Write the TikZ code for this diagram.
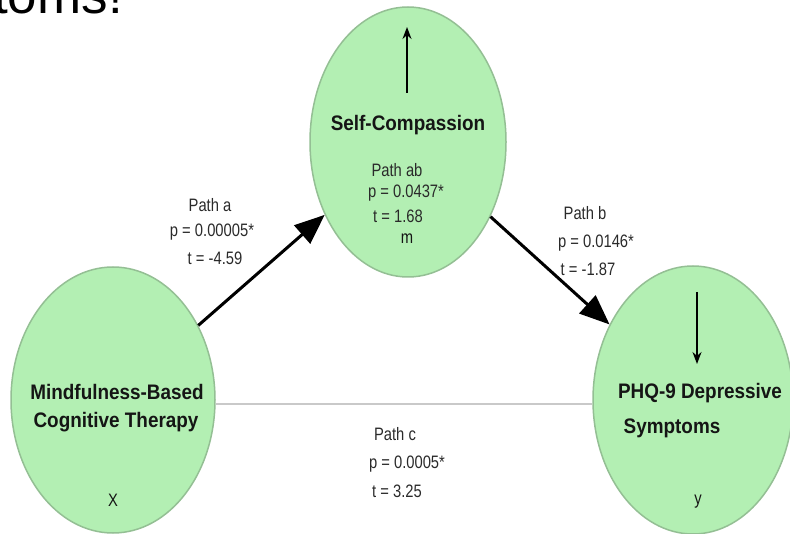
\documentclass[tikz,border=0pt]{standalone}
\usepackage{fontspec}
\setmainfont{Liberation Sans}
\newfontfamily\lblfont[FakeStretch=0.82]{Liberation Sans}
\newfontfamily\namefont[FakeStretch=0.9]{Liberation Sans}
\usetikzlibrary{shapes.geometric,arrows.meta}
\definecolor{nodefill}{HTML}{B3EFB3}
\definecolor{nodeline}{HTML}{94BF94}
\definecolor{inktext}{HTML}{151515}
\definecolor{lbltext}{HTML}{2A2A2A}
\definecolor{directline}{HTML}{C9C9C9}
\begin{document}
\begin{tikzpicture}[x=1pt,y=-1pt,
  latent/.style={ellipse, draw=nodeline, line width=1.5pt, fill=nodefill, inner sep=0pt},
  varname/.style={font=\namefont\bfseries\fontsize{21}{24}\selectfont, text=inktext, inner sep=0pt},
  pathlbl/.style={font=\lblfont\fontsize{18}{20}\selectfont, text=lbltext, inner sep=0pt},
  bigarrow/.style={line width=3pt, -{Triangle[length=30pt,width=24pt]}},
  errarrow/.style={line width=1.5pt, -{Stealth[length=12pt,width=9pt]}}
]
\useasboundingbox (0,0) rectangle (790,534);
\clip (0,0) rectangle (790,534);

% heading fragment cut by the top edge
\node[anchor=base east, inner sep=0pt, font=\fontsize{53}{60}\selectfont] (heading) at (123,14) {toms!};

% variables
\node[latent, minimum width=204pt, minimum height=266pt] (x) at (113,400) {};
\node[latent, minimum width=196pt, minimum height=270pt] (m) at (408,142) {};
\node[latent, minimum width=200pt, minimum height=268pt] (y) at (693,400) {};

% direct path c
\draw[directline, line width=2.5pt] (x.east |- 0,404) coordinate (cL) -- (y.west |- 0,404) coordinate (cR);

% indirect paths a and b
\draw[bigarrow] (x) -- (m);
\draw[bigarrow] (m) -- (y);

% error terms
\coordinate (mErrFoot) at (407,93);
\coordinate (mErrTip) at (407,27);
\draw[errarrow] (mErrFoot) -- (mErrTip);
\coordinate (yErrFoot) at (697,292);
\coordinate (yErrTip) at (697,364);
\draw[errarrow] (yErrFoot) -- (yErrTip);

% variable names
\node[varname] (xname1) at (117,392) {Mindfulness-Based};
\node[varname] (xname2) at (116,422) {Cognitive Therapy};
\node[varname] (mname) at (408,125) {Self-Compassion};
\node[varname] (yname1) at (700,393) {PHQ-9 Depressive};
\node[varname] (yname2) at (672,428) {Symptoms};

% role letters
\node[pathlbl, text=inktext] (xlet) at (113,500) {X};
\node[pathlbl, text=inktext] (mlet) at (407,239) {m};
\node[pathlbl, text=inktext] (ylet) at (698,502) {y};

% path ab
\node[pathlbl] (ab1) at (397,170) {Path ab};
\node[pathlbl] (ab2) at (406,193) {p = 0.0437*};
\node[pathlbl] (ab3) at (398,216) {t = 1.68};

% path a
\node[pathlbl] (a1) at (210,205) {Path a};
\node[pathlbl] (a2) at (212,232) {p = 0.00005*};
\node[pathlbl] (a3) at (215,258) {t = -4.59};

% path b
\node[pathlbl] (b1) at (585,213) {Path b};
\node[pathlbl] (b2) at (596,243) {p = 0.0146*};
\node[pathlbl] (b3) at (588,269) {t = -1.87};

% path c
\node[pathlbl] (c1) at (395,434) {Path c};
\node[pathlbl] (c2) at (407,464) {p = 0.0005*};
\node[pathlbl] (c3) at (397,491) {t = 3.25};
\end{tikzpicture}
\end{document}
